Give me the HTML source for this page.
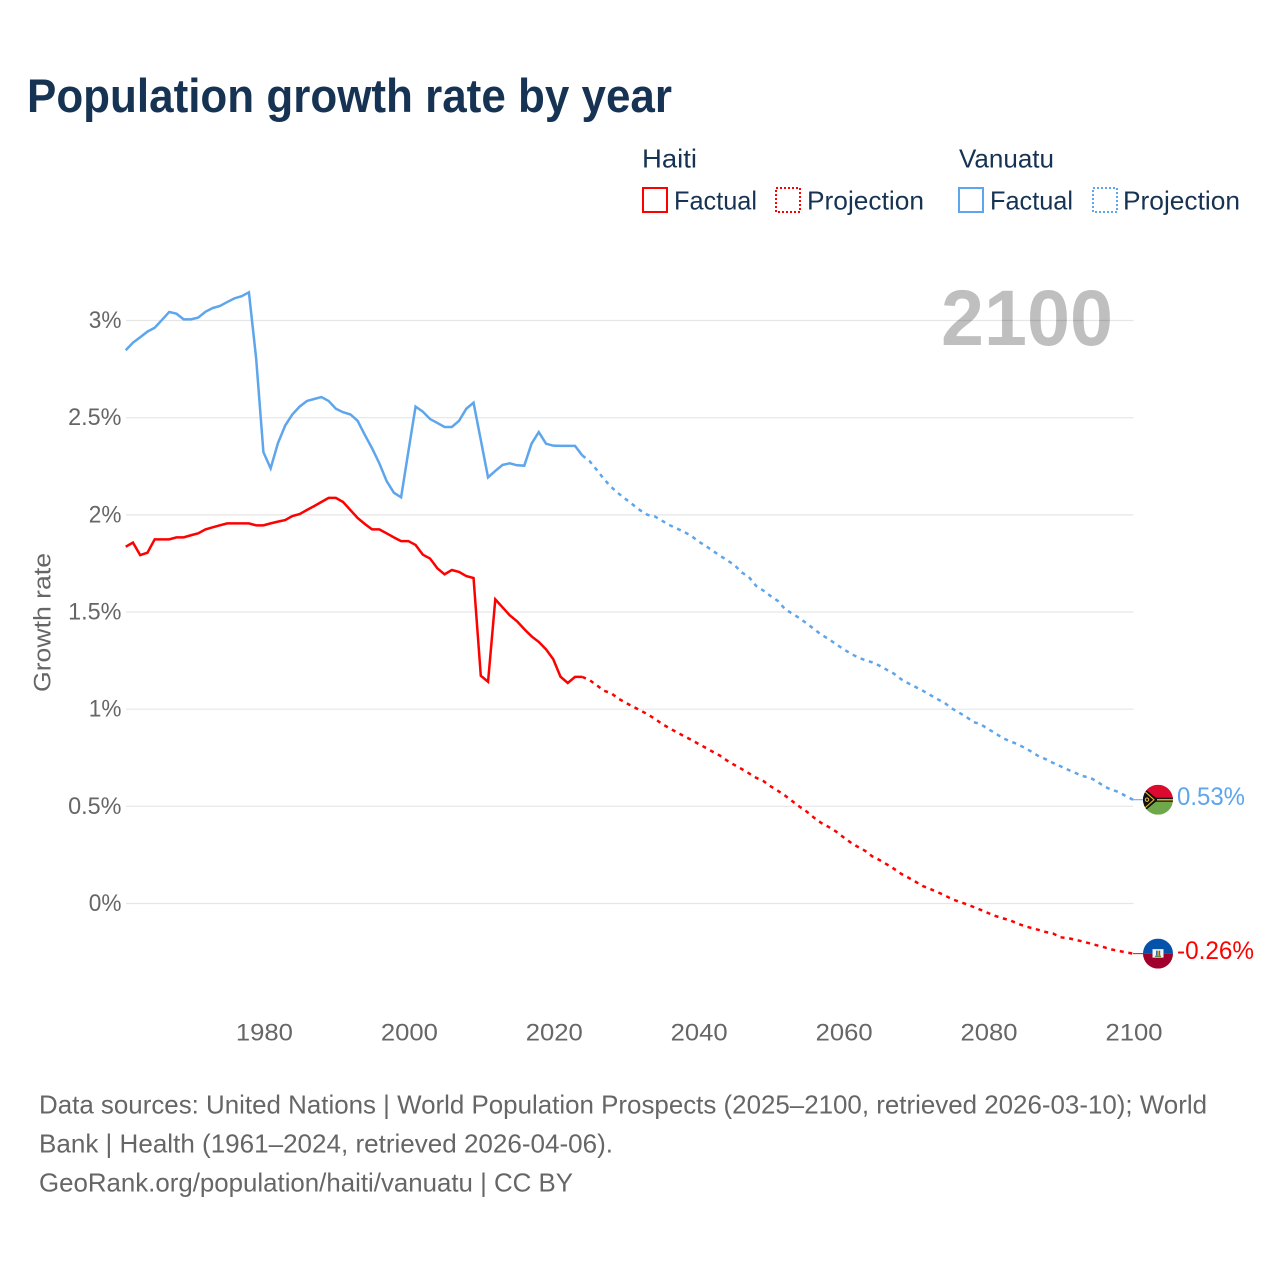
<!DOCTYPE html>
<html lang="en">
<head>
<meta charset="utf-8">
<title>Population growth rate by year</title>
<style>
html,body{margin:0;padding:0;background:#fff;}
svg{display:block;}
text{font-family:"Liberation Sans",sans-serif;}
</style>
</head>
<body>
<svg id="chart" xmlns="http://www.w3.org/2000/svg" width="1280" height="1280" viewBox="0 0 1280 1280">
  <rect x="0" y="0" width="1280" height="1280" fill="#ffffff"/>
  <text x="27" y="112" font-size="47" font-weight="700" fill="#173353" textLength="645" lengthAdjust="spacingAndGlyphs">Population growth rate by year</text>

  <g font-size="26" fill="#173353">
    <text x="642" y="167.5" textLength="55" lengthAdjust="spacingAndGlyphs">Haiti</text>
    <rect x="643" y="188" width="24" height="24" fill="none" stroke="#ff0000" stroke-width="2"/>
    <text x="674" y="209.5" textLength="83" lengthAdjust="spacingAndGlyphs">Factual</text>
    <rect x="776" y="188" width="24" height="24" fill="none" stroke="#ff0000" stroke-width="2" stroke-dasharray="2 2"/>
    <text x="807" y="209.5" textLength="117" lengthAdjust="spacingAndGlyphs">Projection</text>
    <text x="959" y="167.5" textLength="95" lengthAdjust="spacingAndGlyphs">Vanuatu</text>
    <rect x="959" y="188" width="24" height="24" fill="none" stroke="#5da5ec" stroke-width="2"/>
    <text x="990" y="209.5" textLength="83" lengthAdjust="spacingAndGlyphs">Factual</text>
    <rect x="1093" y="188" width="24" height="24" fill="none" stroke="#5da5ec" stroke-width="2" stroke-dasharray="2 2"/>
    <text x="1123" y="209.5" textLength="117" lengthAdjust="spacingAndGlyphs">Projection</text>
  </g>

  <text transform="translate(50.5,692) rotate(-90)" x="0" y="0" font-size="24" fill="#666666" textLength="139" lengthAdjust="spacingAndGlyphs">Growth rate</text>

  <g id="grid"></g>
  <g id="yticks"></g>
  <g id="xticks"></g>

  <text x="941" y="345" font-size="79" font-weight="700" fill="#000000" fill-opacity="0.25" textLength="172" lengthAdjust="spacingAndGlyphs">2100</text>

  <g id="series"></g>

  <defs>
    <clipPath id="flag-clip"><circle cx="0" cy="0" r="15"/></clipPath>
  </defs>

  <g id="flag-vanuatu">
    <g clip-path="url(#flag-clip)">
      <rect x="-15" y="-15" width="30" height="15" fill="#dc0a2e"/>
      <rect x="-15" y="0" width="30" height="15" fill="#6fa84a"/>
      <rect x="-15" y="-2" width="30" height="4" fill="#111111"/>
      <rect x="-6" y="-0.8" width="21" height="1.6" fill="#d9a92a"/>
      <polygon points="-15,-11 -13,-11 -1,-1 -1,1 -13,11 -15,11" fill="#111111"/>
      <polyline points="-14,-9 -4,0 -14,9" fill="none" stroke="#e7bb3a" stroke-width="1.1"/>
      <circle cx="-11" cy="0" r="1.7" fill="none" stroke="#e7bb3a" stroke-width="1"/>
    </g>
  </g>
  <g id="flag-haiti">
    <g clip-path="url(#flag-clip)">
      <rect x="-15" y="-15" width="30" height="15" fill="#0552ab"/>
      <rect x="-15" y="0" width="30" height="15" fill="#a1002c"/>
      <rect x="-5.5" y="-4.5" width="11" height="8.5" fill="#f4f4f4"/>
      <rect x="-2" y="-3" width="1.5" height="5" fill="#3b6ea8"/>
      <rect x="-0.5" y="-3" width="1.5" height="5" fill="#c9b04a"/>
      <rect x="1" y="-3" width="1.2" height="5" fill="#3b6ea8"/>
      <rect x="-3" y="2" width="6" height="1.3" fill="#4e8f3e"/>
    </g>
  </g>

  <g id="end-labels"></g>

  <g font-size="26" fill="#666666">
    <text x="39" y="1113.5" textLength="1168" lengthAdjust="spacingAndGlyphs">Data sources: United Nations | World Population Prospects (2025–2100, retrieved 2026-03-10); World</text>
    <text x="39" y="1152.5" textLength="574" lengthAdjust="spacingAndGlyphs">Bank | Health (1961–2024, retrieved 2026-04-06).</text>
    <text x="39" y="1191.5" textLength="534" lengthAdjust="spacingAndGlyphs">GeoRank.org/population/haiti/vanuatu | CC BY</text>
  </g>
</svg>

<script>
const startYear = 1961;
const factualEndYear = 2024;
const yTicks = [0, 0.5, 1, 1.5, 2, 2.5, 3];
const yTickLabels = ["0%", "0.5%", "1%", "1.5%", "2%", "2.5%", "3%"];
const xTicks = [1980, 2000, 2020, 2040, 2060, 2080, 2100];
const xTickLabels = ["1980", "2000", "2020", "2040", "2060", "2080", "2100"];
const haitiEndLabel = "-0.26%";
const vanuatuEndLabel = "0.53%";

const haitiFactual = [
  1.836,1.857,1.793,1.805,1.874,1.874,1.874,1.884,1.884,1.895,
  1.905,1.925,1.936,1.946,1.956,1.956,1.956,1.956,1.946,1.946,
  1.956,1.965,1.973,1.994,2.004,2.025,2.045,2.066,2.087,2.087,
  2.066,2.025,1.984,1.953,1.925,1.925,1.905,1.884,1.865,1.865,
  1.845,1.795,1.775,1.725,1.694,1.716,1.706,1.685,1.675,1.172,
  1.141,1.565,1.524,1.483,1.452,1.412,1.375,1.346,1.308,1.257,
  1.167,1.135,1.166,1.166
];
const haitiProjection = [
  1.15,1.123,1.095,1.082,1.054,1.033,1.013,0.994,0.974,0.951,
  0.924,0.903,0.882,0.862,0.843,0.822,0.802,0.781,0.761,0.735,
  0.713,0.692,0.67,0.647,0.63,0.603,0.58,0.555,0.526,0.498,
  0.472,0.441,0.414,0.394,0.371,0.342,0.315,0.292,0.272,0.243,
  0.224,0.202,0.179,0.153,0.133,0.112,0.09,0.075,0.059,0.042,
  0.023,0.009,-0.003,-0.018,-0.033,-0.049,-0.064,-0.076,-0.086,-0.102,
  -0.116,-0.126,-0.136,-0.147,-0.155,-0.174,-0.178,-0.186,-0.195,-0.205,
  -0.215,-0.225,-0.236,-0.244,-0.251,-0.258
];
const vanuatuFactual = [
  2.847,2.886,2.914,2.943,2.963,3.003,3.044,3.035,3.006,3.006,
  3.015,3.045,3.064,3.075,3.095,3.114,3.125,3.145,2.805,2.323,
  2.239,2.368,2.459,2.517,2.557,2.586,2.596,2.606,2.586,2.546,
  2.528,2.517,2.484,2.411,2.342,2.265,2.174,2.114,2.09,2.325,
  2.557,2.531,2.493,2.473,2.452,2.452,2.484,2.546,2.577,2.385,
  2.193,2.226,2.257,2.265,2.255,2.253,2.366,2.426,2.366,2.356,
  2.355,2.355,2.355,2.306
];
const vanuatuProjection = [
  2.277,2.231,2.184,2.143,2.11,2.081,2.052,2.023,2.0,1.992,
  1.97,1.948,1.931,1.913,1.893,1.864,1.841,1.815,1.79,1.766,
  1.742,1.704,1.68,1.634,1.61,1.582,1.557,1.514,1.491,1.468,
  1.44,1.412,1.383,1.361,1.335,1.31,1.287,1.267,1.253,1.241,
  1.224,1.203,1.183,1.154,1.133,1.114,1.095,1.073,1.052,1.032,
  1.004,0.982,0.96,0.934,0.922,0.898,0.876,0.852,0.835,0.821,
  0.802,0.781,0.757,0.742,0.723,0.706,0.689,0.673,0.656,0.649,
  0.629,0.603,0.586,0.574,0.553,0.534
];

const SVGNS = "http://www.w3.org/2000/svg";
function xScale(year) { return 263.4 + (year - 1980) * (1133 - 263.4) / 120; }
function yScale(v) { return 903.5 - v * 194.33; }
function charWidth(c) {
  if (c === ".") return 6.5;
  if (c === "%") return 18.5;
  if (c === "-") return 8;
  return 14.2;
}
function labelWidth(s, scale) {
  let w = 0;
  for (const c of s) w += charWidth(c);
  return w * scale;
}
function pathFrom(values, firstYear) {
  return values.map(function (v, i) {
    return (i ? "L" : "M") + xScale(firstYear + i).toFixed(2) + " " + yScale(v).toFixed(2);
  }).join(" ");
}

const gridG = document.getElementById("grid");
const yG = document.getElementById("yticks");
const xG = document.getElementById("xticks");
const seriesG = document.getElementById("series");
const endG = document.getElementById("end-labels");

yTicks.forEach(function (t, i) {
  const ln = document.createElementNS(SVGNS, "line");
  
  
  ln.setAttribute("x1", 126);
  ln.setAttribute("x2", 1133.5);
  ln.setAttribute("y1", yScale(t));
  ln.setAttribute("y2", yScale(t));
  ln.setAttribute("stroke", "#e6e6e6");
  ln.setAttribute("stroke-width", 1.2);
  gridG.appendChild(ln);

  const tx = document.createElementNS(SVGNS, "text");
  
  
  tx.setAttribute("x", 121.5);
  tx.setAttribute("y", yScale(t) + 7.5);
  tx.setAttribute("text-anchor", "end");
  tx.setAttribute("font-size", 24);
  tx.setAttribute("fill", "#666666");
  tx.setAttribute("textLength", labelWidth(yTickLabels[i], 1));
  tx.setAttribute("lengthAdjust", "spacingAndGlyphs");
  tx.textContent = yTickLabels[i];
  yG.appendChild(tx);
});

xTicks.forEach(function (t, i) {
  const tx = document.createElementNS(SVGNS, "text");
  
  
  tx.setAttribute("x", xScale(t) + 1);
  tx.setAttribute("y", 1040.5);
  tx.setAttribute("text-anchor", "middle");
  tx.setAttribute("font-size", 24);
  tx.setAttribute("fill", "#666666");
  tx.setAttribute("textLength", 57);
  tx.setAttribute("lengthAdjust", "spacingAndGlyphs");
  tx.textContent = xTickLabels[i];
  xG.appendChild(tx);
});

function drawSeries(factual, projection, color, key) {
  const lastFactual = factual[factual.length - 1];
  const solid = document.createElementNS(SVGNS, "path");
  
  
  solid.setAttribute("d", pathFrom(factual, startYear));
  solid.setAttribute("fill", "none");
  solid.setAttribute("stroke", color);
  solid.setAttribute("stroke-width", 2.5);
  solid.setAttribute("stroke-linejoin", "miter");
  seriesG.appendChild(solid);

  const dashed = document.createElementNS(SVGNS, "path");
  
  
  dashed.setAttribute("d", pathFrom([lastFactual].concat(projection), factualEndYear));
  dashed.setAttribute("fill", "none");
  dashed.setAttribute("stroke", color);
  dashed.setAttribute("stroke-width", 2.5);
  dashed.setAttribute("stroke-dasharray", "4 4.7");
  seriesG.appendChild(dashed);

  const endY = yScale(projection[projection.length - 1]);
  const conn = document.createElementNS(SVGNS, "line");
  
  
  conn.setAttribute("x1", xScale(2100));
  conn.setAttribute("x2", 1144);
  conn.setAttribute("y1", endY);
  conn.setAttribute("y2", endY);
  conn.setAttribute("stroke", color);
  conn.setAttribute("stroke-width", 1);
  seriesG.appendChild(conn);
  return endY;
}

const vanuatuEndY = drawSeries(vanuatuFactual, vanuatuProjection, "#5da5ec", "vanuatu");
const haitiEndY = drawSeries(haitiFactual, haitiProjection, "#ff0000", "haiti");

document.getElementById("flag-vanuatu").setAttribute("transform", "translate(1158," + vanuatuEndY + ")");
document.getElementById("flag-haiti").setAttribute("transform", "translate(1158," + haitiEndY + ")");

const vLabel = document.createElementNS(SVGNS, "text");


vLabel.setAttribute("x", 1177);
vLabel.setAttribute("y", vanuatuEndY + 5.5);
vLabel.setAttribute("font-size", 25);
vLabel.setAttribute("fill", "#5da5ec");
vLabel.setAttribute("textLength", 68);
vLabel.setAttribute("lengthAdjust", "spacingAndGlyphs");
vLabel.textContent = vanuatuEndLabel;
endG.appendChild(vLabel);

const hLabel = document.createElementNS(SVGNS, "text");


hLabel.setAttribute("x", 1177);
hLabel.setAttribute("y", haitiEndY + 5.5);
hLabel.setAttribute("font-size", 25);
hLabel.setAttribute("fill", "#ff0000");
hLabel.setAttribute("textLength", 77);
hLabel.setAttribute("lengthAdjust", "spacingAndGlyphs");
hLabel.textContent = haitiEndLabel;
endG.appendChild(hLabel);
</script>
</body>
</html>
